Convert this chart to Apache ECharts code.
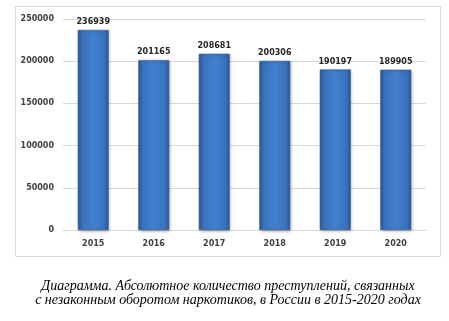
<!DOCTYPE html>
<html><head><meta charset="utf-8">
<script src="https://cdn.jsdelivr.net/npm/echarts@6/dist/echarts.min.js"></script>
<style>html,body{margin:0;padding:0;background:#fff}#c{width:449px;height:321px}</style>
</head><body><div id="c"></div>
<script>
const categories = ['2015','2016','2017','2018','2019','2020'];
const values = [236939, 201165, 208681, 200306, 190197, 189905];
const yTicks = [0, 50000, 100000, 150000, 200000, 250000];
const captionLines = ['Диаграмма. Абсолютное количество преступлений, связанных', 'с незаконным оборотом наркотиков, в России в 2015-2020 годах'];

const chart = echarts.init(document.getElementById('c'));
const barColor = new echarts.graphic.LinearGradient(0, 0, 1, 0, [
  {offset: 0, color: '#2c5a96'},
  {offset: 0.15, color: '#3a72bd'},
  {offset: 0.5, color: '#4180cf'},
  {offset: 0.85, color: '#3a72bd'},
  {offset: 1, color: '#2c5a96'}
]);
chart.setOption({
  animation: false,
  grid: {left: 63, right: 23, top: 19, bottom: 91, containLabel: false},
  graphic: [
    {type: 'rect', shape: {x: 15.5, y: 6.5, width: 425, height: 250}, style: {fill: 'none', stroke: '#d9d9d9', lineWidth: 1}, z: -1},
    {type: 'text', x: 228, y: 279, style: {text: captionLines.join('\n'), font: 'italic 14px "Liberation Serif"', fill: '#000', align: 'center', lineHeight: 14}}
  ],
  xAxis: {
    type: 'category', data: categories,
    axisLine: {lineStyle: {color: '#d9d9d9'}}, axisTick: {show: false},
    axisLabel: {color: '#404040', fontSize: 8, fontWeight: 'bold', fontFamily: 'DejaVu Sans', margin: 10}
  },
  yAxis: {
    type: 'value', min: yTicks[0], max: yTicks[yTicks.length-1], interval: 50000,
    axisLine: {show: false}, axisTick: {show: false},
    splitLine: {lineStyle: {color: '#d9d9d9'}},
    axisLabel: {color: '#404040', fontSize: 8, fontWeight: 'bold', fontFamily: 'DejaVu Sans', margin: 9, formatter: v => String(v)}
  },
  series: [{
    type: 'bar', data: values, barWidth: '51%',
    itemStyle: {color: barColor, borderColor: '#2a5288', borderWidth: 0.5, shadowColor: 'rgba(0,0,0,0.35)', shadowBlur: 3, shadowOffsetX: 1, shadowOffsetY: 1},
    label: {show: true, position: 'top', distance: 4, color: '#262626', fontSize: 8, fontWeight: 'bold', fontFamily: 'DejaVu Sans'}
  }]
});
</script></body></html>
